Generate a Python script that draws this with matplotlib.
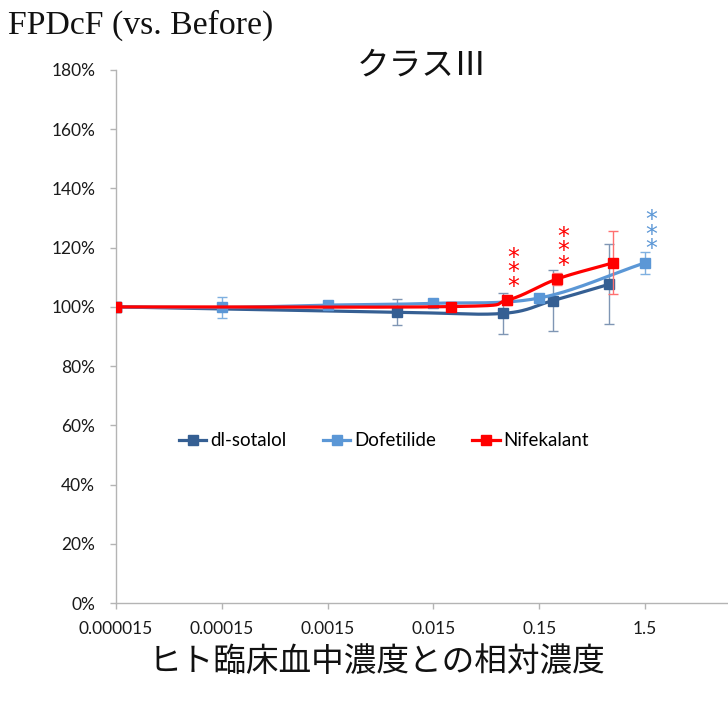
import numpy as np
import matplotlib
matplotlib.use("Agg")
import matplotlib.pyplot as plt
from matplotlib.lines import Line2D

# Concentration relative to human clinical plasma level
tick_vals = [0.000015, 0.00015, 0.0015, 0.015, 0.15, 1.5]
tick_labels = ["0.000015", "0.00015", "0.0015", "0.015", "0.15", "1.5"]

# dl-sotalol
sot_x = [0.000015, 0.0068, 0.068, 0.2, 0.68]
sot_y = [100.0, 98.2, 97.8, 102.1, 107.6]
sot_e = [0.0, 4.4, 7.0, 10.3, 13.5]

# Dofetilide
dof_x = [0.000015, 0.00015, 0.0015, 0.015, 0.15, 1.5]
dof_y = [100.0, 99.8, 100.6, 101.2, 103.0, 114.9]
dof_e = [0.0, 3.7, 0.8, 0.8, 1.0, 3.7]

# Nifekalant
nif_x = [0.000015, 0.022, 0.075, 0.22, 0.75]
nif_y = [100.0, 100.1, 102.3, 109.4, 114.9]
nif_e = [0.0, 1.0, 1.5, 2.0, 10.7]

# significance marks: (series, index of point)
sig_marks = [("nif", 2), ("nif", 3), ("dof", 5)]

C_SOT = "#355f93"
C_DOF = "#5b97d6"
C_NIF = "#ff0000"
E_SOT = "#7f96b4"
E_DOF = "#7fb0e0"
E_NIF = "#ff7070"

W, H, DPI = 728, 703, 100
fig = plt.figure(figsize=(W / DPI, H / DPI), dpi=DPI)
fig.patch.set_facecolor("white")

ax_left, ax_right = 116, 751
ax_top, ax_bottom = 70, 603
ax = fig.add_axes([ax_left / W, 1 - ax_bottom / H,
                   (ax_right - ax_left) / W, (ax_bottom - ax_top) / H])
ax.set_xscale("log")
ax.set_xlim(0.000015, 15)
ax.set_ylim(0, 180)


def smooth(xs, ys, n=40):
    """Catmull-Rom curve through the points in (log10 x, y) space."""
    u = np.log10(np.asarray(xs, float))
    v = np.asarray(ys, float)
    pu = np.concatenate([[2 * u[0] - u[1]], u, [2 * u[-1] - u[-2]]])
    pv = np.concatenate([[2 * v[0] - v[1]], v, [2 * v[-1] - v[-2]]])
    out_u, out_v = [], []
    t = np.linspace(0, 1, n)
    for i in range(1, len(pu) - 2):
        p0u, p1u, p2u, p3u = pu[i - 1:i + 3]
        p0v, p1v, p2v, p3v = pv[i - 1:i + 3]
        cu = 0.5 * ((2 * p1u) + (-p0u + p2u) * t + (2 * p0u - 5 * p1u + 4 * p2u - p3u) * t ** 2
                    + (-p0u + 3 * p1u - 3 * p2u + p3u) * t ** 3)
        cv = 0.5 * ((2 * p1v) + (-p0v + p2v) * t + (2 * p0v - 5 * p1v + 4 * p2v - p3v) * t ** 2
                    + (-p0v + 3 * p1v - 3 * p2v + p3v) * t ** 3)
        out_u.extend(cu)
        out_v.extend(cv)
    return 10 ** np.array(out_u), np.array(out_v)


series = [
    ("dl-sotalol", sot_x, sot_y, sot_e, C_SOT, E_SOT, 3),
    ("Dofetilide", dof_x, dof_y, dof_e, C_DOF, E_DOF, 4),
    ("Nifekalant", nif_x, nif_y, nif_e, C_NIF, E_NIF, 5),
]

for name, xs, ys, es, col, ecol, z in series:
    ax.errorbar(xs, ys, yerr=es, fmt="none", ecolor=ecol, elinewidth=1.0,
                capsize=3.5, capthick=1.0, zorder=z - 0.5)
    sx, sy = smooth(xs, ys)
    ax.plot(sx, sy, color=col, lw=2.3, zorder=z, solid_capstyle="round")
    ax.plot(xs, ys, ls="none", marker="s", ms=7.5, color=col, zorder=z + 0.1)

lookup = {"sot": (sot_x, sot_y, C_SOT), "dof": (dof_x, dof_y, C_DOF),
          "nif": (nif_x, nif_y, C_NIF)}
for key, idx in sig_marks:
    xs, ys, col = lookup[key]
    ax.annotate("*\n*\n*", xy=(xs[idx], ys[idx]), xytext=(6, 28),
                textcoords="offset pixels", ha="center", va="center",
                color=col, fontsize=17, linespacing=0.5,
                family="DejaVu Sans", zorder=10)

# axes styling
for side in ("top", "right"):
    ax.spines[side].set_visible(False)
for side in ("left", "bottom"):
    ax.spines[side].set_color("#b4b4b4")
    ax.spines[side].set_linewidth(1.0)

ax.set_xticks(tick_vals)
ax.set_xticklabels(tick_labels)
ax.xaxis.set_minor_locator(matplotlib.ticker.NullLocator())
ax.set_yticks(np.arange(0, 181, 20))
ax.set_yticklabels([f"{v}%" for v in range(0, 181, 20)])
ax.tick_params(axis="both", colors="#b4b4b4", labelcolor="#1a1a1a",
               labelsize=12.5, length=4, width=1.0, direction="out")
ax.tick_params(axis="y", pad=11)
ax.tick_params(axis="x", pad=9)
for lab in ax.get_xticklabels() + ax.get_yticklabels():
    lab.set_family("Lato")

handles = [Line2D([], [], color=c, lw=2.3, marker="s", ms=6.5)
           for c in (C_SOT, C_DOF, C_NIF)]
fig.legend(handles, ["dl-sotalol", "Dofetilide", "Nifekalant"],
           loc="center", bbox_to_anchor=(384 / W, 1 - 441 / H), ncol=3,
           frameon=False, handlelength=1.45, handletextpad=0.2,
           columnspacing=1.95, prop={"family": "Lato", "size": 13.5})

fig.text(8 / W, 1 - 25 / H, "FPDcF (vs. Before)", family="Liberation Serif",
         fontsize=24.3, ha="left", va="center", color="#111111")
fig.text(422 / W, 1 - 65 / H, "クラスⅢ", family=["Noto Sans CJK JP", "DejaVu Sans"],
         fontsize=23.5, ha="center", va="center", color="#111111")
fig.text(377 / W, 1 - 662 / H, "ヒト臨床血中濃度との相対濃度",
         family=["Noto Sans CJK JP", "DejaVu Sans"], fontsize=23.5,
         ha="center", va="center", color="#111111")

fig.savefig("out.png", dpi=DPI, facecolor="white")
